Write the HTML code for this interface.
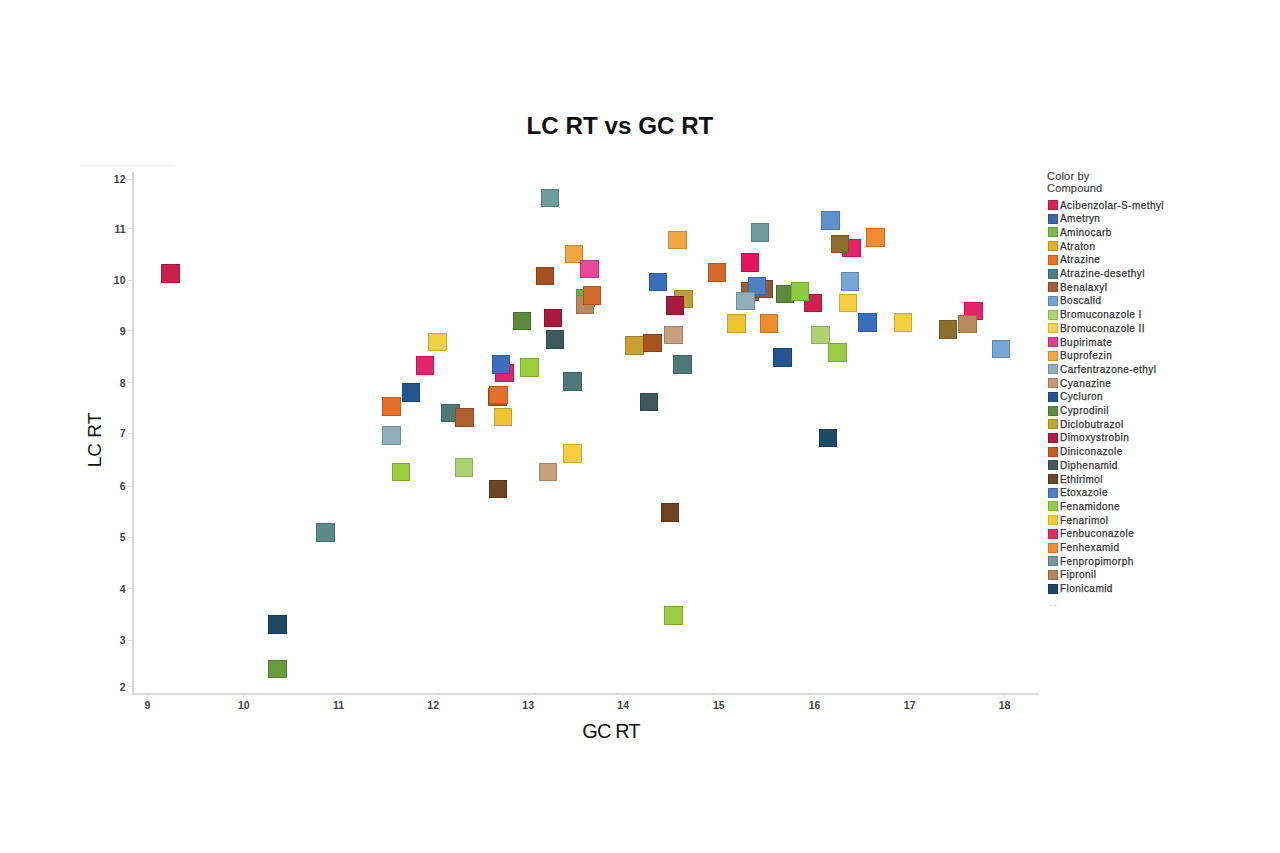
<!DOCTYPE html>
<html><head><meta charset="utf-8"><title>LC RT vs GC RT</title>
<style>
html,body{margin:0;padding:0;background:#fff;}
body{width:1280px;height:853px;position:relative;overflow:hidden;font-family:"Liberation Sans",sans-serif;}
.a{position:absolute;}
.sq{position:absolute;width:18.6px;height:18.6px;box-sizing:border-box;border:1px solid;}
.yl{position:absolute;right:1154.5px;font-size:10.5px;font-weight:bold;color:#454545;line-height:12px;height:12px;}
.xl{position:absolute;width:40px;text-align:center;font-size:10.5px;font-weight:bold;color:#454545;line-height:12px;height:12px;}
.lg{position:absolute;left:1047.5px;width:10px;height:10px;box-sizing:border-box;}
.lt{position:absolute;left:1060px;font-size:10px;letter-spacing:0.45px;color:#333;-webkit-text-stroke:0.25px #333;line-height:11px;white-space:nowrap;}
</style></head><body>
<div class="a" style="left:80px;top:164px;width:95px;height:3px;background:#f6f6f6;"></div>
<div class="a" id="title" style="left:0;width:1240px;top:111px;text-align:center;font-size:24.2px;font-weight:bold;color:#111;line-height:30px;">LC RT vs GC RT</div>
<div class="a" id="ylab" style="left:95px;top:440px;width:0;height:0;"><div style="position:absolute;left:-40px;top:-12px;width:80px;text-align:center;font-size:19px;color:#111;line-height:24px;transform:rotate(-90deg);">LC RT</div></div>
<div class="a" id="xlab" style="left:560px;width:102px;top:720px;text-align:center;font-size:20px;letter-spacing:-0.9px;color:#111;line-height:22px;">GC RT</div>
<div class="a" style="left:132px;top:172px;width:2px;height:523px;background:#d9d9d9;"></div>
<div class="a" style="left:132px;top:692.5px;width:907px;height:2px;background:#d9d9d9;"></div>
<div class="a" style="left:128px;top:178.8px;width:4px;height:1px;background:#e4e4e4;"></div><div class="yl" style="top:173.3px;">12</div>
<div class="a" style="left:128px;top:228.0px;width:4px;height:1px;background:#e4e4e4;"></div><div class="yl" style="top:222.5px;">11</div>
<div class="a" style="left:128px;top:279.7px;width:4px;height:1px;background:#e4e4e4;"></div><div class="yl" style="top:274.2px;">10</div>
<div class="a" style="left:128px;top:330.3px;width:4px;height:1px;background:#e4e4e4;"></div><div class="yl" style="top:324.8px;">9</div>
<div class="a" style="left:128px;top:382.2px;width:4px;height:1px;background:#e4e4e4;"></div><div class="yl" style="top:376.7px;">8</div>
<div class="a" style="left:128px;top:432.9px;width:4px;height:1px;background:#e4e4e4;"></div><div class="yl" style="top:427.4px;">7</div>
<div class="a" style="left:128px;top:485.5px;width:4px;height:1px;background:#e4e4e4;"></div><div class="yl" style="top:480.0px;">6</div>
<div class="a" style="left:128px;top:536.7px;width:4px;height:1px;background:#e4e4e4;"></div><div class="yl" style="top:531.2px;">5</div>
<div class="a" style="left:128px;top:588.2px;width:4px;height:1px;background:#e4e4e4;"></div><div class="yl" style="top:582.8px;">4</div>
<div class="a" style="left:128px;top:639.5px;width:4px;height:1px;background:#e4e4e4;"></div><div class="yl" style="top:634.0px;">3</div>
<div class="a" style="left:128px;top:686.0px;width:4px;height:1px;background:#e4e4e4;"></div><div class="yl" style="top:680.5px;">2</div>
<div class="a" style="left:147.0px;top:694px;width:1px;height:4px;background:#e4e4e4;"></div><div class="xl" style="left:127.5px;top:698.8px;">9</div>
<div class="a" style="left:243.2px;top:694px;width:1px;height:4px;background:#e4e4e4;"></div><div class="xl" style="left:223.8px;top:698.8px;">10</div>
<div class="a" style="left:338.0px;top:694px;width:1px;height:4px;background:#e4e4e4;"></div><div class="xl" style="left:318.5px;top:698.8px;">11</div>
<div class="a" style="left:432.8px;top:694px;width:1px;height:4px;background:#e4e4e4;"></div><div class="xl" style="left:413.2px;top:698.8px;">12</div>
<div class="a" style="left:527.8px;top:694px;width:1px;height:4px;background:#e4e4e4;"></div><div class="xl" style="left:508.2px;top:698.8px;">13</div>
<div class="a" style="left:622.8px;top:694px;width:1px;height:4px;background:#e4e4e4;"></div><div class="xl" style="left:603.2px;top:698.8px;">14</div>
<div class="a" style="left:718.2px;top:694px;width:1px;height:4px;background:#e4e4e4;"></div><div class="xl" style="left:698.8px;top:698.8px;">15</div>
<div class="a" style="left:814.1px;top:694px;width:1px;height:4px;background:#e4e4e4;"></div><div class="xl" style="left:794.6px;top:698.8px;">16</div>
<div class="a" style="left:909.2px;top:694px;width:1px;height:4px;background:#e4e4e4;"></div><div class="xl" style="left:889.7px;top:698.8px;">17</div>
<div class="a" style="left:1004.0px;top:694px;width:1px;height:4px;background:#e4e4e4;"></div><div class="xl" style="left:984.5px;top:698.8px;">18</div>
<div class="sq" style="left:161.2px;top:264.2px;background:#c81f4b;border-color:#a4193d;"></div>
<div class="sq" style="left:428.0px;top:332.8px;background:#f4d040;border-color:#c8aa34;"></div>
<div class="sq" style="left:415.5px;top:356.3px;background:#e4236a;border-color:#ba1c56;"></div>
<div class="sq" style="left:540.5px;top:188.8px;background:#6f9c9c;border-color:#5b7f7f;"></div>
<div class="sq" style="left:564.5px;top:244.5px;background:#f4a744;border-color:#c88837;"></div>
<div class="sq" style="left:580.0px;top:259.5px;background:#e8479a;border-color:#be3a7e;"></div>
<div class="sq" style="left:535.8px;top:266.8px;background:#a8501e;border-color:#894118;"></div>
<div class="sq" style="left:576.3px;top:288.8px;background:#74b04a;border-color:#5f903c;"></div>
<div class="sq" style="left:575.8px;top:295.0px;background:#b98a5e;border-color:#97714d;"></div>
<div class="sq" style="left:582.5px;top:286.3px;background:#d0692a;border-color:#aa5622;"></div>
<div class="sq" style="left:512.5px;top:311.5px;background:#5a8a3a;border-color:#49712f;"></div>
<div class="sq" style="left:543.8px;top:308.8px;background:#a51b3e;border-color:#871632;"></div>
<div class="sq" style="left:545.8px;top:330.0px;background:#3c5a5a;border-color:#314949;"></div>
<div class="sq" style="left:495.0px;top:363.8px;background:#e2236a;border-color:#b91c56;"></div>
<div class="sq" style="left:491.8px;top:355.0px;background:#3a6fbb;border-color:#2f5b99;"></div>
<div class="sq" style="left:520.0px;top:358.0px;background:#9ccf3e;border-color:#7fa932;"></div>
<div class="sq" style="left:563.3px;top:372.0px;background:#4f7878;border-color:#406262;"></div>
<div class="sq" style="left:668.0px;top:230.8px;background:#f4a744;border-color:#c88837;"></div>
<div class="sq" style="left:648.8px;top:272.5px;background:#3a6fbb;border-color:#2f5b99;"></div>
<div class="sq" style="left:674.3px;top:289.5px;background:#c0a032;border-color:#9d8329;"></div>
<div class="sq" style="left:665.5px;top:296.3px;background:#a51b3e;border-color:#871632;"></div>
<div class="sq" style="left:664.3px;top:325.5px;background:#c9a07e;border-color:#a48367;"></div>
<div class="sq" style="left:625.0px;top:336.3px;background:#c9a030;border-color:#a48327;"></div>
<div class="sq" style="left:643.0px;top:333.8px;background:#a8541e;border-color:#894418;"></div>
<div class="sq" style="left:673.3px;top:355.0px;background:#4f7878;border-color:#406262;"></div>
<div class="sq" style="left:707.5px;top:263.0px;background:#d4682a;border-color:#ad5522;"></div>
<div class="sq" style="left:750.5px;top:223.3px;background:#6f9c9c;border-color:#5b7f7f;"></div>
<div class="sq" style="left:740.9px;top:253.1px;background:#e4165a;border-color:#ba1249;"></div>
<div class="sq" style="left:740.9px;top:282.4px;background:#96623a;border-color:#7a502f;"></div>
<div class="sq" style="left:754.0px;top:279.9px;background:#8a5a3a;border-color:#71492f;"></div>
<div class="sq" style="left:747.9px;top:276.7px;background:#4c82c2;border-color:#3e6a9f;"></div>
<div class="sq" style="left:736.0px;top:291.8px;background:#8fb0ba;border-color:#759098;"></div>
<div class="sq" style="left:727.0px;top:314.2px;background:#f0c430;border-color:#c4a027;"></div>
<div class="sq" style="left:759.8px;top:314.2px;background:#f08c30;border-color:#c47227;"></div>
<div class="sq" style="left:821.3px;top:211.3px;background:#5e92cf;border-color:#4d77a9;"></div>
<div class="sq" style="left:842.0px;top:238.8px;background:#e4236a;border-color:#ba1c56;"></div>
<div class="sq" style="left:830.8px;top:234.5px;background:#8a6e2c;border-color:#715a24;"></div>
<div class="sq" style="left:866.3px;top:228.0px;background:#f08c30;border-color:#c47227;"></div>
<div class="sq" style="left:840.8px;top:272.0px;background:#78a6d6;border-color:#6288af;"></div>
<div class="sq" style="left:838.8px;top:293.8px;background:#f4d040;border-color:#c8aa34;"></div>
<div class="sq" style="left:775.8px;top:284.9px;background:#5a8a3a;border-color:#49712f;"></div>
<div class="sq" style="left:803.7px;top:293.5px;background:#d0204a;border-color:#aa1a3c;"></div>
<div class="sq" style="left:790.5px;top:282.0px;background:#8ecb40;border-color:#74a634;"></div>
<div class="sq" style="left:811.3px;top:325.5px;background:#acd272;border-color:#8dac5d;"></div>
<div class="sq" style="left:828.0px;top:343.3px;background:#9ccc44;border-color:#7fa737;"></div>
<div class="sq" style="left:773.0px;top:348.3px;background:#24558e;border-color:#1d4574;"></div>
<div class="sq" style="left:858.3px;top:313.0px;background:#3a6fbb;border-color:#2f5b99;"></div>
<div class="sq" style="left:893.8px;top:313.0px;background:#f4d040;border-color:#c8aa34;"></div>
<div class="sq" style="left:964.3px;top:301.8px;background:#e4236a;border-color:#ba1c56;"></div>
<div class="sq" style="left:938.8px;top:320.0px;background:#8a6e2c;border-color:#715a24;"></div>
<div class="sq" style="left:958.3px;top:314.5px;background:#b88a5e;border-color:#96714d;"></div>
<div class="sq" style="left:991.8px;top:339.5px;background:#78a6d6;border-color:#6288af;"></div>
<div class="sq" style="left:401.8px;top:383.0px;background:#24558e;border-color:#1d4574;"></div>
<div class="sq" style="left:382.0px;top:397.0px;background:#e5702a;border-color:#bb5b22;"></div>
<div class="sq" style="left:382.0px;top:426.3px;background:#8fb0ba;border-color:#759098;"></div>
<div class="sq" style="left:391.8px;top:462.5px;background:#9ccf3e;border-color:#7fa932;"></div>
<div class="sq" style="left:316.3px;top:523.0px;background:#5a8a8a;border-color:#497171;"></div>
<div class="sq" style="left:441.3px;top:403.8px;background:#4f7878;border-color:#406262;"></div>
<div class="sq" style="left:455.0px;top:408.3px;background:#b0602a;border-color:#904e22;"></div>
<div class="sq" style="left:488.0px;top:387.5px;background:#b85520;border-color:#96451a;"></div>
<div class="sq" style="left:489.0px;top:385.5px;background:#e5702a;border-color:#bb5b22;"></div>
<div class="sq" style="left:493.8px;top:407.5px;background:#f0c430;border-color:#c4a027;"></div>
<div class="sq" style="left:639.5px;top:392.5px;background:#3c5a5a;border-color:#314949;"></div>
<div class="sq" style="left:454.5px;top:458.0px;background:#acd272;border-color:#8dac5d;"></div>
<div class="sq" style="left:563.0px;top:444.3px;background:#f4d040;border-color:#c8aa34;"></div>
<div class="sq" style="left:538.8px;top:462.5px;background:#c9a07e;border-color:#a48367;"></div>
<div class="sq" style="left:488.8px;top:479.5px;background:#6e4424;border-color:#5a371d;"></div>
<div class="sq" style="left:660.5px;top:503.3px;background:#6e4424;border-color:#5a371d;"></div>
<div class="sq" style="left:818.8px;top:428.8px;background:#1e4a66;border-color:#183c53;"></div>
<div class="sq" style="left:268.0px;top:615.0px;background:#1e4a66;border-color:#183c53;"></div>
<div class="sq" style="left:268.0px;top:659.5px;background:#6a9a3a;border-color:#567e2f;"></div>
<div class="sq" style="left:664.3px;top:606.3px;background:#9ccc44;border-color:#7fa737;"></div>
<div class="a" style="left:1047px;top:170px;font-size:11px;letter-spacing:0.2px;color:#444;-webkit-text-stroke:0.2px #444;line-height:12px;">Color by<br>Compound</div>
<div class="lg" style="top:200.0px;background:#d2245a;border:1px solid #b21e4c;"></div><div class="lt" style="top:199.5px;">Acibenzolar-S-methyl</div>
<div class="lg" style="top:213.7px;background:#3a66aa;border:1px solid #315690;"></div><div class="lt" style="top:213.2px;">Ametryn</div>
<div class="lg" style="top:227.4px;background:#78b94c;border:1px solid #669d40;"></div><div class="lt" style="top:226.9px;">Aminocarb</div>
<div class="lg" style="top:241.1px;background:#dcae2e;border:1px solid #bb9327;"></div><div class="lt" style="top:240.6px;">Atraton</div>
<div class="lg" style="top:254.8px;background:#e5702a;border:1px solid #c25f23;"></div><div class="lt" style="top:254.3px;">Atrazine</div>
<div class="lg" style="top:268.5px;background:#4f7d7b;border:1px solid #436a68;"></div><div class="lt" style="top:268.0px;">Atrazine-desethyl</div>
<div class="lg" style="top:282.2px;background:#a45d32;border:1px solid #8b4f2a;"></div><div class="lt" style="top:281.7px;">Benalaxyl</div>
<div class="lg" style="top:295.9px;background:#75a3d3;border:1px solid #638ab3;"></div><div class="lt" style="top:295.4px;">Boscalid</div>
<div class="lg" style="top:309.6px;background:#acd272;border:1px solid #92b260;"></div><div class="lt" style="top:309.1px;">Bromuconazole I</div>
<div class="lg" style="top:323.3px;background:#f3d343;border:1px solid #ceb338;"></div><div class="lt" style="top:322.8px;">Bromuconazole II</div>
<div class="lg" style="top:337.0px;background:#e3408f;border:1px solid #c03679;"></div><div class="lt" style="top:336.5px;">Bupirimate</div>
<div class="lg" style="top:350.7px;background:#f4a745;border:1px solid #cf8d3a;"></div><div class="lt" style="top:350.2px;">Buprofezin</div>
<div class="lg" style="top:364.4px;background:#8eaeb4;border:1px solid #789399;"></div><div class="lt" style="top:363.9px;">Carfentrazone-ethyl</div>
<div class="lg" style="top:378.1px;background:#c49574;border:1px solid #a67e62;"></div><div class="lt" style="top:377.6px;">Cyanazine</div>
<div class="lg" style="top:391.8px;background:#245590;border:1px solid #1e487a;"></div><div class="lt" style="top:391.3px;">Cycluron</div>
<div class="lg" style="top:405.5px;background:#5c8c3c;border:1px solid #4e7733;"></div><div class="lt" style="top:405.0px;">Cyprodinil</div>
<div class="lg" style="top:419.2px;background:#c3a133;border:1px solid #a5882b;"></div><div class="lt" style="top:418.7px;">Diclobutrazol</div>
<div class="lg" style="top:432.9px;background:#b11c44;border:1px solid #961739;"></div><div class="lt" style="top:432.4px;">Dimoxystrobin</div>
<div class="lg" style="top:446.6px;background:#c65e24;border:1px solid #a84f1e;"></div><div class="lt" style="top:446.1px;">Diniconazole</div>
<div class="lg" style="top:460.3px;background:#3d5c5c;border:1px solid #334e4e;"></div><div class="lt" style="top:459.8px;">Diphenamid</div>
<div class="lg" style="top:474.0px;background:#6e4424;border:1px solid #5d391e;"></div><div class="lt" style="top:473.5px;">Ethirimol</div>
<div class="lg" style="top:487.7px;background:#4c82c2;border:1px solid #406ea4;"></div><div class="lt" style="top:487.2px;">Etoxazole</div>
<div class="lg" style="top:501.4px;background:#96cc44;border:1px solid #7fad39;"></div><div class="lt" style="top:500.9px;">Fenamidone</div>
<div class="lg" style="top:515.1px;background:#f4cb34;border:1px solid #cfac2c;"></div><div class="lt" style="top:514.6px;">Fenarimol</div>
<div class="lg" style="top:528.8px;background:#e42a6c;border:1px solid #c1235b;"></div><div class="lt" style="top:528.3px;">Fenbuconazole</div>
<div class="lg" style="top:542.5px;background:#f38c32;border:1px solid #ce772a;"></div><div class="lt" style="top:542.0px;">Fenhexamid</div>
<div class="lg" style="top:556.2px;background:#6a9a9a;border:1px solid #5a8282;"></div><div class="lt" style="top:555.7px;">Fenpropimorph</div>
<div class="lg" style="top:569.9px;background:#b5845a;border:1px solid #99704c;"></div><div class="lt" style="top:569.4px;">Fipronil</div>
<div class="lg" style="top:583.6px;background:#1e4562;border:1px solid #193a53;"></div><div class="lt" style="top:583.1px;">Flonicamid</div>
<div class="a" style="left:1049px;top:600px;font-size:8px;color:#777;line-height:8px;letter-spacing:0.5px;">...</div>
</body></html>
